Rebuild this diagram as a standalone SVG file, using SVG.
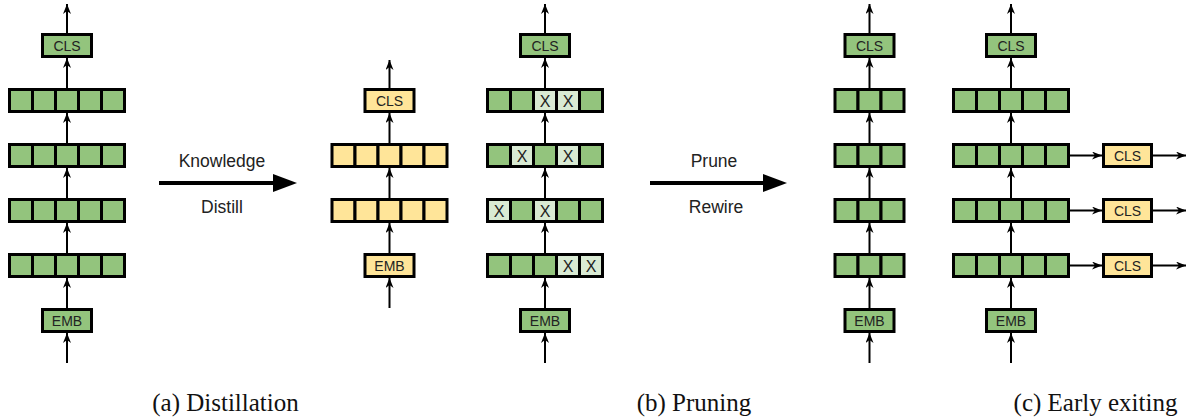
<svg xmlns="http://www.w3.org/2000/svg" width="1192" height="418" viewBox="0 0 1192 418">
<style>
.g{fill:#93c47d;stroke:#000;stroke-width:3}
.x{fill:#d9ead3;stroke:#000;stroke-width:3}
.y{fill:#ffe599;stroke:#000;stroke-width:3}
.t{font-family:"Liberation Sans",Arial,sans-serif;font-size:14px;fill:#222;text-anchor:middle}
.xt{font-family:"Liberation Sans",Arial,sans-serif;font-size:16px;fill:#222;text-anchor:middle}
.lbl{font-family:"Liberation Sans",Arial,sans-serif;font-size:17.5px;fill:#222;text-anchor:middle}
.cap{font-family:"Liberation Serif","Times New Roman","DejaVu Serif",serif;font-size:25px;fill:#111;text-anchor:middle}
.c{stroke:#000;stroke-width:2;fill:none;marker-end:url(#ah)}
.big{stroke:#000;stroke-width:4;fill:none}
</style>
<defs>
<marker id="ah" viewBox="0 0 10 8" refX="10" refY="4" markerWidth="10" markerHeight="8" markerUnits="userSpaceOnUse" orient="auto">
<path d="M0,0 L10,4 L0,8 L3,4 Z" fill="#000"/>
</marker>
</defs>

<g id="connectors">
<line class="c" x1="67" y1="363" x2="67" y2="333"/>
<line class="c" x1="67" y1="308" x2="67" y2="278"/>
<line class="c" x1="67" y1="253" x2="67" y2="223"/>
<line class="c" x1="67" y1="198" x2="67" y2="168"/>
<line class="c" x1="67" y1="143" x2="67" y2="113"/>
<line class="c" x1="67" y1="88" x2="67" y2="58"/>
<line class="c" x1="67" y1="33" x2="67" y2="4"/>
<line class="c" x1="389.5" y1="308" x2="389.5" y2="278"/>
<line class="c" x1="389.5" y1="253" x2="389.5" y2="223"/>
<line class="c" x1="389.5" y1="198" x2="389.5" y2="168"/>
<line class="c" x1="389.5" y1="143" x2="389.5" y2="113"/>
<line class="c" x1="389.5" y1="88" x2="389.5" y2="60"/>
<line class="c" x1="545" y1="363" x2="545" y2="333"/>
<line class="c" x1="545" y1="308" x2="545" y2="278"/>
<line class="c" x1="545" y1="253" x2="545" y2="223"/>
<line class="c" x1="545" y1="198" x2="545" y2="168"/>
<line class="c" x1="545" y1="143" x2="545" y2="113"/>
<line class="c" x1="545" y1="88" x2="545" y2="58"/>
<line class="c" x1="545" y1="33" x2="545" y2="4"/>
<line class="c" x1="869.5" y1="363" x2="869.5" y2="333"/>
<line class="c" x1="869.5" y1="308" x2="869.5" y2="278"/>
<line class="c" x1="869.5" y1="253" x2="869.5" y2="223"/>
<line class="c" x1="869.5" y1="198" x2="869.5" y2="168"/>
<line class="c" x1="869.5" y1="143" x2="869.5" y2="113"/>
<line class="c" x1="869.5" y1="88" x2="869.5" y2="58"/>
<line class="c" x1="869.5" y1="33" x2="869.5" y2="4"/>
<line class="c" x1="1011" y1="363" x2="1011" y2="333"/>
<line class="c" x1="1011" y1="308" x2="1011" y2="278"/>
<line class="c" x1="1011" y1="253" x2="1011" y2="223"/>
<line class="c" x1="1011" y1="198" x2="1011" y2="168"/>
<line class="c" x1="1011" y1="143" x2="1011" y2="113"/>
<line class="c" x1="1011" y1="88" x2="1011" y2="58"/>
<line class="c" x1="1011" y1="33" x2="1011" y2="4"/>
<line class="c" x1="1069" y1="155.5" x2="1102" y2="155.5"/>
<line class="c" x1="1153" y1="155.5" x2="1186" y2="155.5"/>
<line class="c" x1="1069" y1="210.5" x2="1102" y2="210.5"/>
<line class="c" x1="1153" y1="210.5" x2="1186" y2="210.5"/>
<line class="c" x1="1069" y1="265.5" x2="1102" y2="265.5"/>
<line class="c" x1="1153" y1="265.5" x2="1186" y2="265.5"/>
<line class="big" x1="159" y1="183" x2="275" y2="183"/>
<polygon points="273,174 297,183 273,192" fill="#000"/>
<line class="big" x1="650" y1="183" x2="765" y2="183"/>
<polygon points="763,174 787,183 763,192" fill="#000"/>
</g>

<g id="labels">
<text class="lbl" x="222" y="167">Knowledge</text>
<text class="lbl" x="222" y="213">Distill</text>
<text class="lbl" x="714" y="167">Prune</text>
<text class="lbl" x="716" y="213">Rewire</text>
</g>

<g id="a-cls"><rect class="g" x="42.5" y="34.5" width="49" height="22"/><text class="t" x="67" y="50.5">CLS</text></g>
<g id="a-l1"><rect class="g" x="9.5" y="89.5" width="23" height="22"/><rect class="g" x="32.5" y="89.5" width="23" height="22"/><rect class="g" x="55.5" y="89.5" width="23" height="22"/><rect class="g" x="78.5" y="89.5" width="23" height="22"/><rect class="g" x="101.5" y="89.5" width="23" height="22"/></g>
<g id="a-l2"><rect class="g" x="9.5" y="144.5" width="23" height="22"/><rect class="g" x="32.5" y="144.5" width="23" height="22"/><rect class="g" x="55.5" y="144.5" width="23" height="22"/><rect class="g" x="78.5" y="144.5" width="23" height="22"/><rect class="g" x="101.5" y="144.5" width="23" height="22"/></g>
<g id="a-l3"><rect class="g" x="9.5" y="199.5" width="23" height="22"/><rect class="g" x="32.5" y="199.5" width="23" height="22"/><rect class="g" x="55.5" y="199.5" width="23" height="22"/><rect class="g" x="78.5" y="199.5" width="23" height="22"/><rect class="g" x="101.5" y="199.5" width="23" height="22"/></g>
<g id="a-l4"><rect class="g" x="9.5" y="254.5" width="23" height="22"/><rect class="g" x="32.5" y="254.5" width="23" height="22"/><rect class="g" x="55.5" y="254.5" width="23" height="22"/><rect class="g" x="78.5" y="254.5" width="23" height="22"/><rect class="g" x="101.5" y="254.5" width="23" height="22"/></g>
<g id="a-emb"><rect class="g" x="42.5" y="309.5" width="49" height="22"/><text class="t" x="67" y="325.5">EMB</text></g>

<g id="s-cls"><rect class="y" x="365" y="89.5" width="49" height="22"/><text class="t" x="389.5" y="105.5">CLS</text></g>
<g id="s-l1"><rect class="y" x="332" y="144.5" width="23" height="22"/><rect class="y" x="355" y="144.5" width="23" height="22"/><rect class="y" x="378" y="144.5" width="23" height="22"/><rect class="y" x="401" y="144.5" width="23" height="22"/><rect class="y" x="424" y="144.5" width="23" height="22"/></g>
<g id="s-l2"><rect class="y" x="332" y="199.5" width="23" height="22"/><rect class="y" x="355" y="199.5" width="23" height="22"/><rect class="y" x="378" y="199.5" width="23" height="22"/><rect class="y" x="401" y="199.5" width="23" height="22"/><rect class="y" x="424" y="199.5" width="23" height="22"/></g>
<g id="s-emb"><rect class="y" x="365" y="254.5" width="49" height="22"/><text class="t" x="389.5" y="270.5">EMB</text></g>

<g id="p-cls"><rect class="g" x="520.5" y="34.5" width="49" height="22"/><text class="t" x="545" y="50.5">CLS</text></g>
<g id="p-l1"><rect class="g" x="487.5" y="89.5" width="23" height="22"/><rect class="g" x="510.5" y="89.5" width="23" height="22"/><rect class="x" x="533.5" y="89.5" width="23" height="22"/><rect class="x" x="556.5" y="89.5" width="23" height="22"/><rect class="g" x="579.5" y="89.5" width="23" height="22"/><text class="xt" x="545" y="106.5">X</text><text class="xt" x="568" y="106.5">X</text></g>
<g id="p-l2"><rect class="g" x="487.5" y="144.5" width="23" height="22"/><rect class="x" x="510.5" y="144.5" width="23" height="22"/><rect class="g" x="533.5" y="144.5" width="23" height="22"/><rect class="x" x="556.5" y="144.5" width="23" height="22"/><rect class="g" x="579.5" y="144.5" width="23" height="22"/><text class="xt" x="522" y="161.5">X</text><text class="xt" x="568" y="161.5">X</text></g>
<g id="p-l3"><rect class="x" x="487.5" y="199.5" width="23" height="22"/><rect class="g" x="510.5" y="199.5" width="23" height="22"/><rect class="x" x="533.5" y="199.5" width="23" height="22"/><rect class="g" x="556.5" y="199.5" width="23" height="22"/><rect class="g" x="579.5" y="199.5" width="23" height="22"/><text class="xt" x="499" y="216.5">X</text><text class="xt" x="545" y="216.5">X</text></g>
<g id="p-l4"><rect class="g" x="487.5" y="254.5" width="23" height="22"/><rect class="g" x="510.5" y="254.5" width="23" height="22"/><rect class="g" x="533.5" y="254.5" width="23" height="22"/><rect class="x" x="556.5" y="254.5" width="23" height="22"/><rect class="x" x="579.5" y="254.5" width="23" height="22"/><text class="xt" x="568" y="271.5">X</text><text class="xt" x="591" y="271.5">X</text></g>
<g id="p-emb"><rect class="g" x="520.5" y="309.5" width="49" height="22"/><text class="t" x="545" y="325.5">EMB</text></g>

<g id="c1-cls"><rect class="g" x="845" y="34.5" width="49" height="22"/><text class="t" x="869.5" y="50.5">CLS</text></g>
<g id="c1-l1"><rect class="g" x="835" y="89.5" width="23" height="22"/><rect class="g" x="858" y="89.5" width="23" height="22"/><rect class="g" x="881" y="89.5" width="23" height="22"/></g>
<g id="c1-l2"><rect class="g" x="835" y="144.5" width="23" height="22"/><rect class="g" x="858" y="144.5" width="23" height="22"/><rect class="g" x="881" y="144.5" width="23" height="22"/></g>
<g id="c1-l3"><rect class="g" x="835" y="199.5" width="23" height="22"/><rect class="g" x="858" y="199.5" width="23" height="22"/><rect class="g" x="881" y="199.5" width="23" height="22"/></g>
<g id="c1-l4"><rect class="g" x="835" y="254.5" width="23" height="22"/><rect class="g" x="858" y="254.5" width="23" height="22"/><rect class="g" x="881" y="254.5" width="23" height="22"/></g>
<g id="c1-emb"><rect class="g" x="845" y="309.5" width="49" height="22"/><text class="t" x="869.5" y="325.5">EMB</text></g>

<g id="c2-cls"><rect class="g" x="986.5" y="34.5" width="49" height="22"/><text class="t" x="1011" y="50.5">CLS</text></g>
<g id="c2-l1"><rect class="g" x="953.5" y="89.5" width="23" height="22"/><rect class="g" x="976.5" y="89.5" width="23" height="22"/><rect class="g" x="999.5" y="89.5" width="23" height="22"/><rect class="g" x="1022.5" y="89.5" width="23" height="22"/><rect class="g" x="1045.5" y="89.5" width="23" height="22"/></g>
<g id="c2-l2"><rect class="g" x="953.5" y="144.5" width="23" height="22"/><rect class="g" x="976.5" y="144.5" width="23" height="22"/><rect class="g" x="999.5" y="144.5" width="23" height="22"/><rect class="g" x="1022.5" y="144.5" width="23" height="22"/><rect class="g" x="1045.5" y="144.5" width="23" height="22"/></g>
<g id="c2-l3"><rect class="g" x="953.5" y="199.5" width="23" height="22"/><rect class="g" x="976.5" y="199.5" width="23" height="22"/><rect class="g" x="999.5" y="199.5" width="23" height="22"/><rect class="g" x="1022.5" y="199.5" width="23" height="22"/><rect class="g" x="1045.5" y="199.5" width="23" height="22"/></g>
<g id="c2-l4"><rect class="g" x="953.5" y="254.5" width="23" height="22"/><rect class="g" x="976.5" y="254.5" width="23" height="22"/><rect class="g" x="999.5" y="254.5" width="23" height="22"/><rect class="g" x="1022.5" y="254.5" width="23" height="22"/><rect class="g" x="1045.5" y="254.5" width="23" height="22"/></g>
<g id="c2-emb"><rect class="g" x="986.5" y="309.5" width="49" height="22"/><text class="t" x="1011" y="325.5">EMB</text></g>
<g id="exit1"><rect class="y" x="1103.5" y="144.5" width="48" height="22"/><text class="t" x="1127.5" y="160.5">CLS</text></g>
<g id="exit2"><rect class="y" x="1103.5" y="199.5" width="48" height="22"/><text class="t" x="1127.5" y="215.5">CLS</text></g>
<g id="exit3"><rect class="y" x="1103.5" y="254.5" width="48" height="22"/><text class="t" x="1127.5" y="270.5">CLS</text></g>

<g id="captions">
<text class="cap" font-family="Liberation Serif, serif" x="225.5" y="411">(a) Distillation</text>
<text class="cap" font-family="Liberation Serif, serif" x="694" y="411">(b) Pruning</text>
<text class="cap" font-family="Liberation Serif, serif" x="1095.5" y="411">(c) Early exiting</text>
</g>
</svg>
